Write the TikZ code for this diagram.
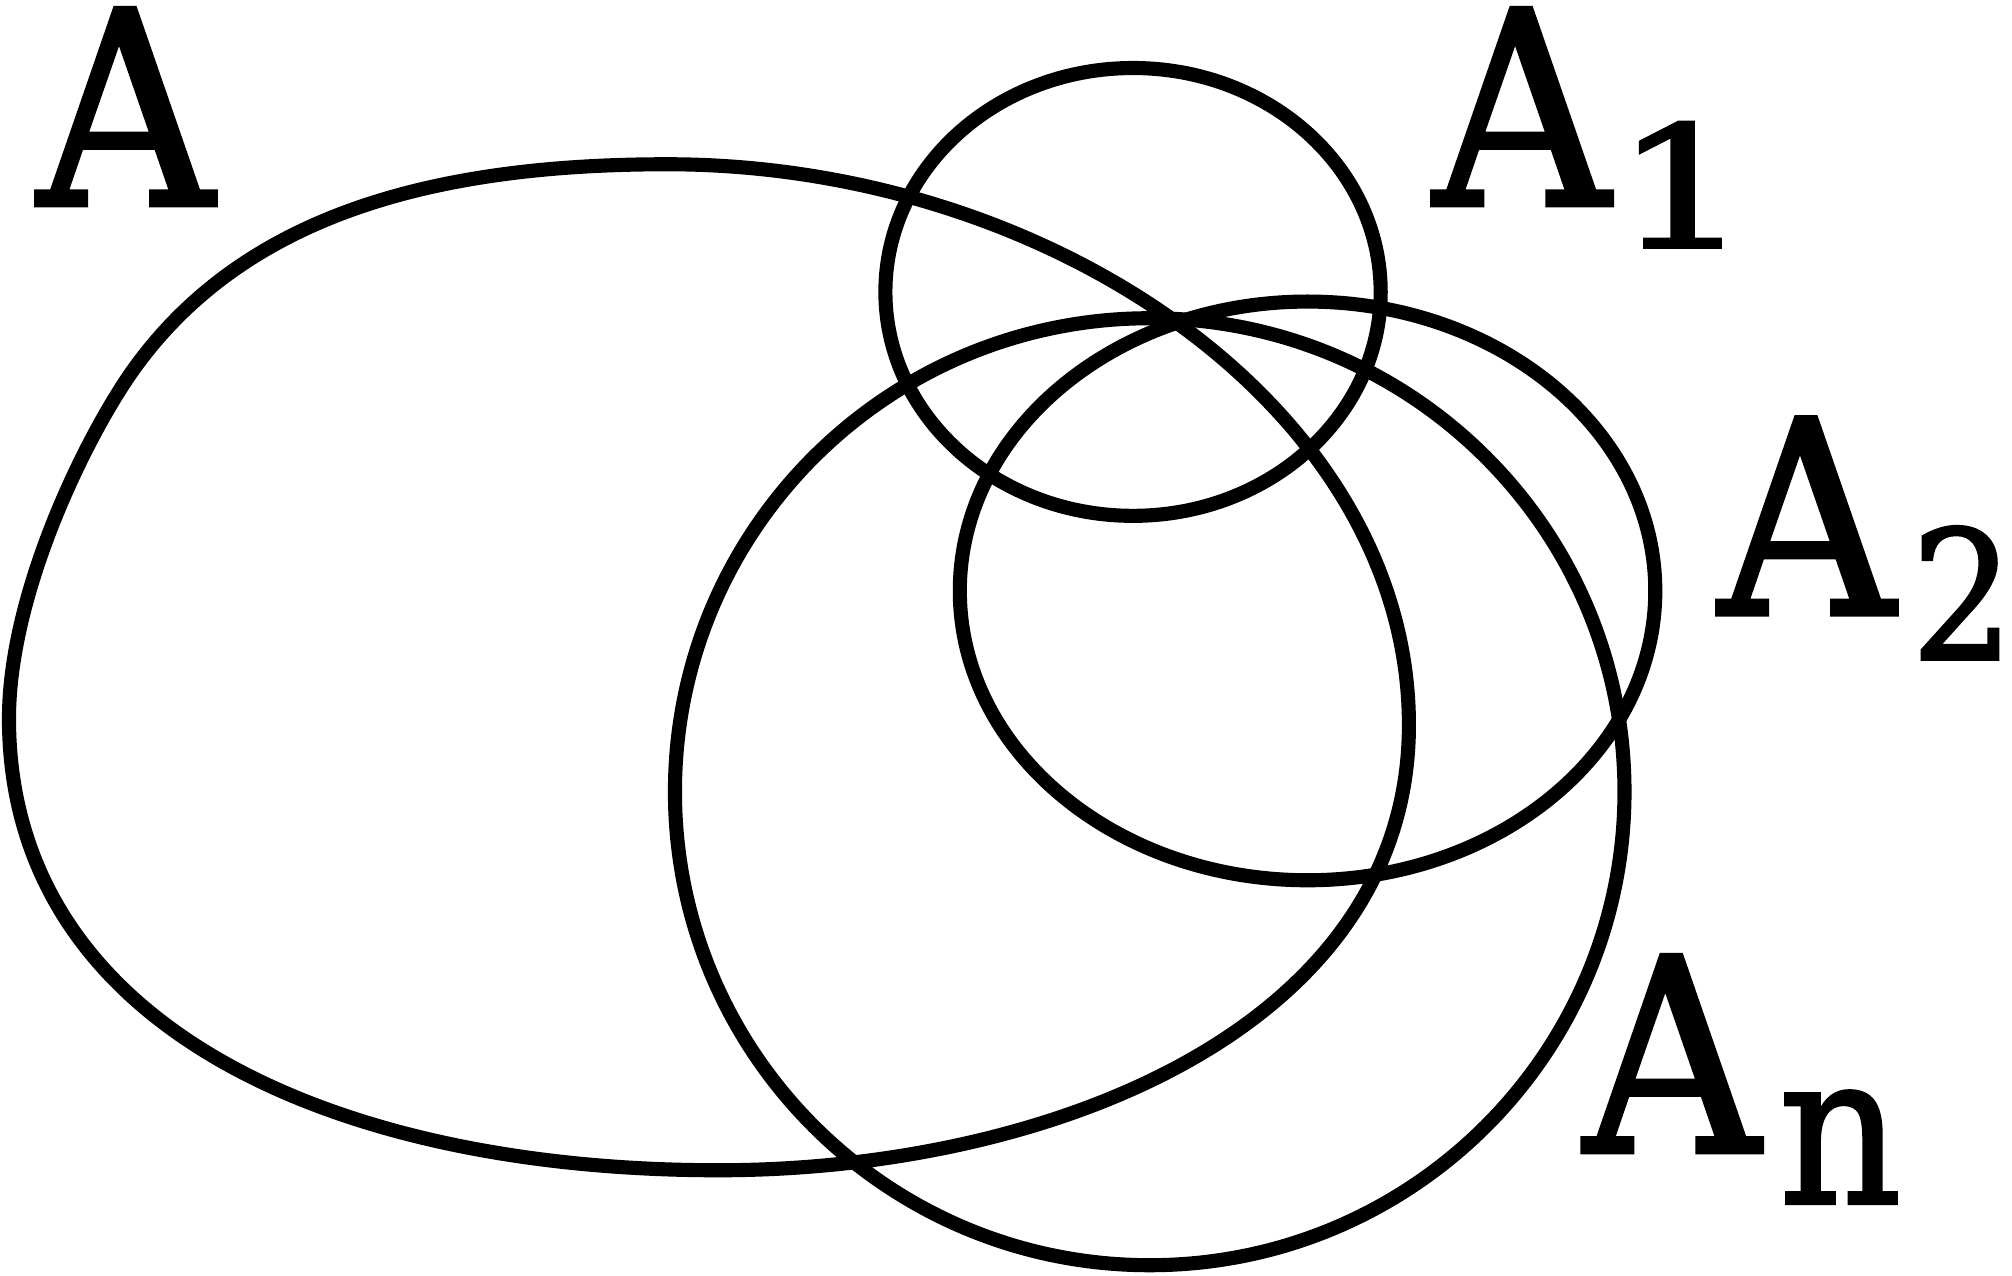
\documentclass[tikz,border=0pt]{standalone}
\usepackage{fontspec}
\usepackage{graphicx}
\setmainfont{DejaVu Serif}
\newfontfamily\lblfont{DejaVu Serif Condensed}[FakeBold=1.5]
\begin{document}
\begin{tikzpicture}[x=1pt,y=-1pt,
  setline/.style={line width=11pt,draw=black},
  lbl/.style={inner sep=0pt,anchor=base west,text height=150pt,text depth=0pt},
  bigf/.style={font=\lblfont\fontsize{211}{211}\selectfont}]
\useasboundingbox (0,0) rectangle (1568,994);
% set A (blob)
\coordinate (ptop) at (520,128);
\coordinate (pright) at (1098,565);
\coordinate (pbot) at (560,912);
\coordinate (pleft) at (7,560);
\coordinate (pul) at (104,288);
\draw[setline] (ptop) .. controls (820,128) and (1098,320) .. (pright)
  .. controls (1098,800) and (820,912) .. (pbot)
  .. controls (260,912) and (7,800) .. (pleft)
  .. controls (7,460) and (69,337) .. (pul)
  .. controls (191,166.5) and (340,128) .. (ptop) -- cycle;
% A1
\draw[setline] (883,227.5) ellipse [x radius=193,y radius=174.5];
% A2
\draw[setline] (1019,460.5) ellipse [x radius=271,y radius=225.5];
% An
\draw[setline] (896,617) ellipse [x radius=370,y radius=369];
% labels
\node[lbl,bigf] (lA) at (29,160) {A};
\node[lbl,bigf] (lA1) at (1117,160) {A\hspace{4pt}\raisebox{-33pt}{\fontsize{132}{132}\selectfont\scalebox{1.4}[1]{1}}};
\node[lbl,bigf] (lA2) at (1339,479) {A\hspace{13pt}\raisebox{-35pt}{\fontsize{140}{140}\selectfont 2}};
\node[lbl,bigf] (lAn) at (1234,898) {A\hspace{15pt}\raisebox{-40pt}{\fontsize{165}{165}\selectfont n}};
\end{tikzpicture}
\end{document}
